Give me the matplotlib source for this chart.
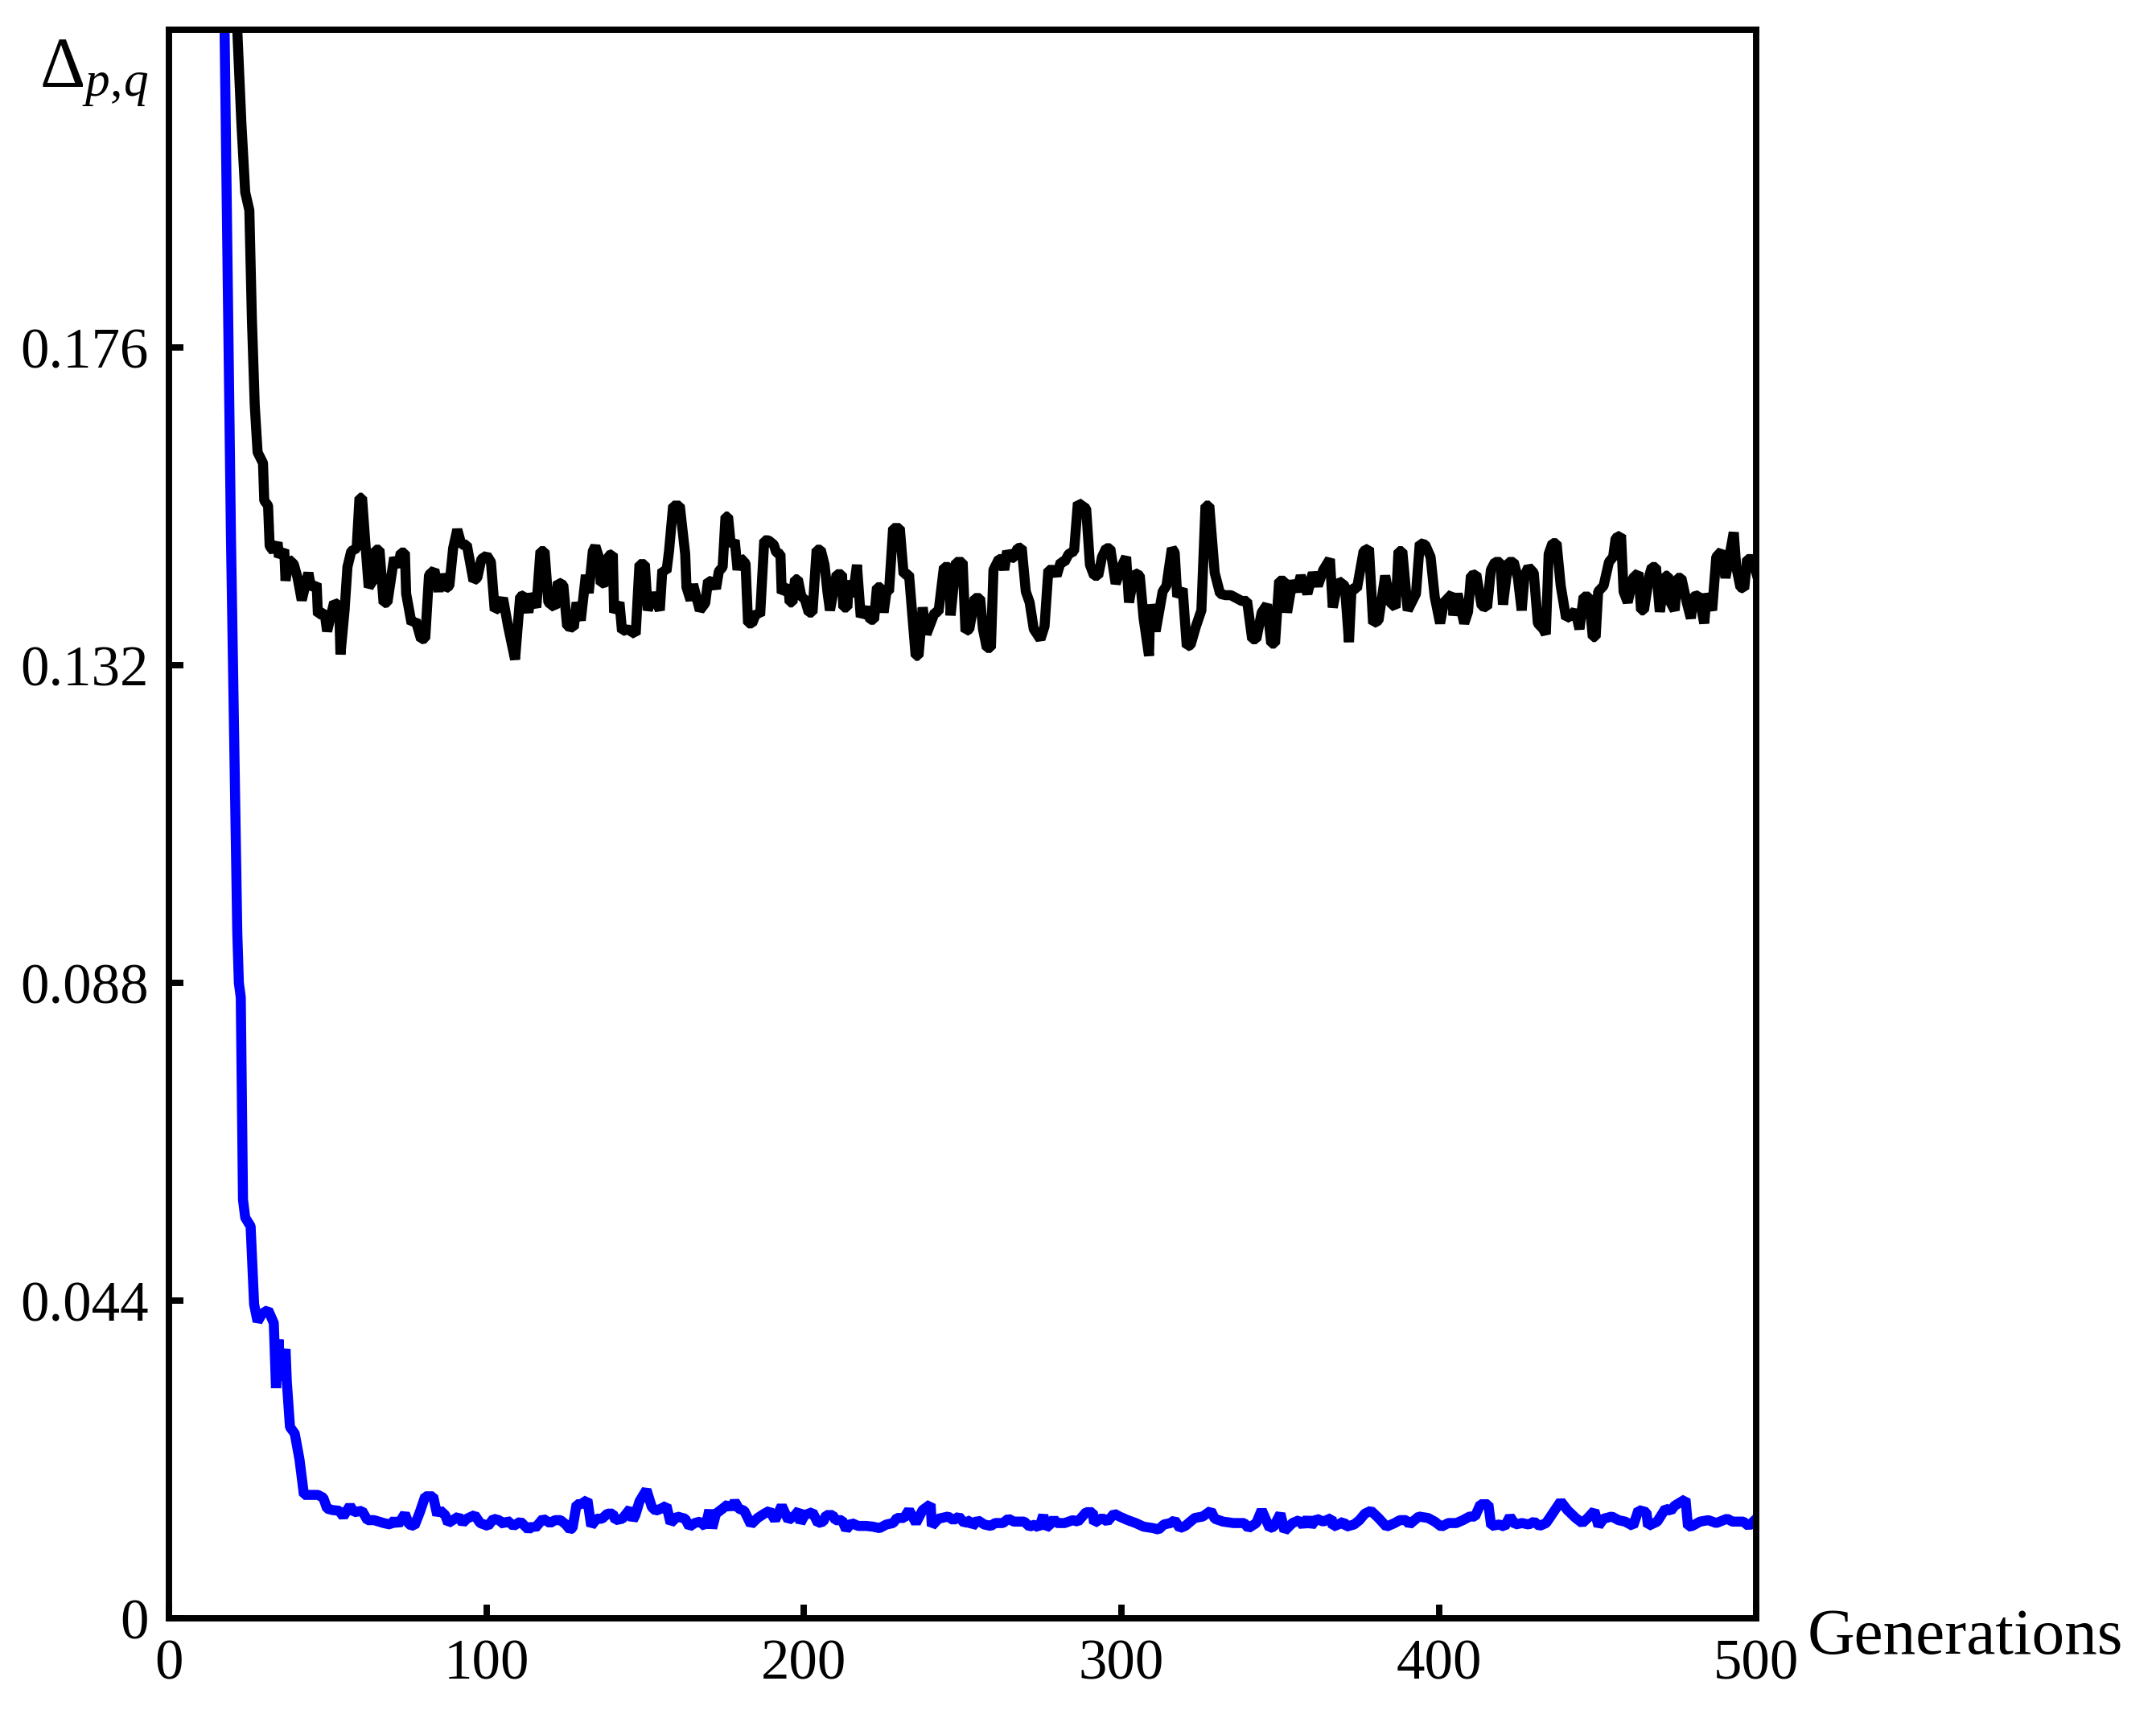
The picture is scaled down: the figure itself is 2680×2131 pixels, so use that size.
import matplotlib
matplotlib.use('Agg')
import matplotlib.pyplot as plt

# punkte odcitani s slike (generacija, vrednost)
black_gen = [19.0, 21.5, 22.8, 24.0, 25.3, 26.1, 27.0, 27.9, 29.6, 30.0, 31.2, 31.7, 32.9, 34.2, 34.6,
             36.3, 36.7, 37.6, 39.3, 40.5, 41.8, 43.9, 44.8, 46.5, 46.9, 49.0, 49.8, 52.0, 53.6, 54.0,
             55.3, 56.2, 57.4, 59.1, 60.0, 60.8, 62.1, 62.9, 64.2, 65.0, 66.3, 67.6, 68.8, 70.1, 70.9,
             72.2, 73.0, 74.3, 74.7, 76.4, 77.7, 79.4, 80.7, 81.9, 83.6, 84.9, 85.7, 87.0, 88.3, 89.5,
             90.8, 92.1, 93.8, 95.9, 97.1, 98.4, 100.1, 101.4, 102.6, 103.9, 105.2, 106.8, 109.0, 110.6,
             111.9, 113.2, 114.0, 115.7, 117.0, 118.3, 119.5, 121.6, 122.5, 124.2, 125.4, 127.5, 128.4,
             129.7, 131.3, 132.2, 133.5, 134.3, 135.6, 136.0, 137.7, 138.5, 139.8, 140.2, 141.9, 142.7,
             144.4, 147.0, 148.2, 149.9, 150.8, 152.5, 154.6, 155.4, 156.7, 157.5, 158.8, 160.9, 162.6,
             163.0, 164.3, 165.1, 167.2, 168.9, 169.8, 171.5, 172.3, 173.2, 174.4, 175.3, 176.1, 177.0,
             178.2, 179.1, 179.9, 181.6, 182.4, 183.7, 185.0, 186.2, 187.5, 188.8, 190.5, 191.3, 192.6,
             193.0, 195.1, 195.5, 196.4, 197.2, 198.1, 199.3, 200.2, 201.5, 202.7, 204.0, 205.3, 206.5,
             207.4, 208.2, 210.3, 212.0, 212.4, 213.7, 214.1, 215.4, 216.7, 217.9, 219.6, 220.9, 222.1,
             223.0, 224.3, 225.1, 226.0, 226.8, 228.1, 230.2, 231.4, 233.1, 235.2, 236.1, 237.4, 238.6,
             241.2, 242.4, 244.1, 245.8, 246.2, 247.9, 250.0, 250.9, 252.1, 253.8, 255.5, 256.4, 257.6,
             258.9, 259.7, 261.4, 262.3, 263.1, 264.0, 265.2, 266.1, 267.3, 268.6, 269.9, 271.1, 272.4,
             274.5, 275.8, 277.0, 278.7, 279.6, 280.9, 282.1, 283.4, 285.1, 286.3, 288.9, 290.1, 291.4,
             292.7, 293.9, 295.2, 296.5, 298.2, 300.3, 301.5, 302.4, 304.1, 305.8, 307.0, 308.7, 309.1,
             310.8, 313.0, 314.2, 315.9, 316.8, 317.6, 319.3, 320.6, 321.8, 323.5, 325.2, 326.5, 327.7,
             329.4, 331.1, 332.8, 334.5, 336.2, 337.9, 339.6, 341.2, 342.5, 344.2, 345.9, 347.2, 348.4,
             349.7, 351.4, 352.2, 353.9, 355.2, 356.5, 358.6, 360.3, 361.9, 363.6, 365.7, 366.6, 368.3,
             370.4, 371.7, 372.5, 374.2, 376.3, 378.0, 379.3, 381.0, 383.1, 384.7, 386.4, 387.3, 388.5,
             390.2, 392.8, 394.0, 395.7, 397.4, 398.7, 400.4, 401.6, 404.2, 404.6, 405.9, 408.0, 409.2,
             410.1, 411.8, 413.5, 415.2, 416.4, 417.7, 419.4, 420.2, 421.9, 423.6, 424.9, 426.1, 427.0,
             428.2, 429.9, 431.2, 432.9, 433.7, 434.6, 435.8, 437.1, 438.4, 440.1, 441.8, 443.0, 444.3,
             445.6, 447.3, 448.5, 449.4, 450.2, 451.9, 453.6, 454.9, 455.7, 457.4, 458.2, 459.5, 461.2,
             462.9, 463.7, 464.6, 466.3, 467.1, 468.4, 469.6, 471.3, 472.2, 473.0, 474.3, 475.1, 476.4,
             478.1, 479.4, 480.2, 481.9, 483.6, 484.4, 486.1, 487.4, 489.1, 490.3, 492.9, 493.7, 495.0,
             496.2, 497.1, 498.8, 500.0]
black_val = [0.245, 0.22, 0.207, 0.1975, 0.195, 0.18, 0.168, 0.1615, 0.160, 0.1548, 0.1541, 0.1485, 0.1478,
             0.149, 0.147, 0.148, 0.1437, 0.1467, 0.146, 0.1441, 0.141, 0.1448, 0.1426, 0.1433, 0.139,
             0.1393, 0.1367, 0.1407, 0.1402, 0.1335, 0.1396, 0.1456, 0.1478, 0.1482, 0.1552, 0.1552,
             0.1474, 0.1428, 0.1437, 0.148, 0.148, 0.1406, 0.1407, 0.1445, 0.1469, 0.1456, 0.1476, 0.1476,
             0.1419, 0.1378, 0.1382, 0.1356, 0.1357, 0.1445, 0.1452, 0.1422, 0.1446, 0.1426, 0.143,
             0.1482, 0.1508, 0.1487, 0.1487, 0.1437, 0.1441, 0.1467, 0.1472, 0.1463, 0.1396, 0.14,
             0.1413, 0.1374, 0.1328, 0.1415, 0.1417, 0.1393, 0.1419, 0.14, 0.1478, 0.1478, 0.1407, 0.14,
             0.1435, 0.1431, 0.1374, 0.1372, 0.1407, 0.1382, 0.1445, 0.142, 0.1478, 0.1485, 0.1467,
             0.1433, 0.1435, 0.1472, 0.1474, 0.1393, 0.1407, 0.1367, 0.137, 0.1363, 0.146, 0.146, 0.1396,
             0.142, 0.1396, 0.1452, 0.145, 0.1478, 0.1541, 0.1541, 0.1474, 0.1428, 0.141, 0.1432, 0.1396,
             0.1406, 0.1437, 0.1435, 0.1426, 0.145, 0.1456, 0.1526, 0.1526, 0.1485, 0.1493, 0.1452,
             0.1469, 0.1461, 0.1378, 0.1378, 0.1393, 0.1389, 0.1493, 0.1493, 0.1487, 0.1476, 0.1474,
             0.142, 0.143, 0.1407, 0.1407, 0.1439, 0.1439, 0.1413, 0.1413, 0.1393, 0.1393, 0.148, 0.148,
             0.1459, 0.1422, 0.1396, 0.1446, 0.1446, 0.14, 0.14, 0.1437, 0.1415, 0.1459, 0.1387, 0.14,
             0.1383, 0.1383, 0.1428, 0.1428, 0.1393, 0.1422, 0.1422, 0.151, 0.151, 0.1446, 0.1446,
             0.1333, 0.1333, 0.14, 0.1363, 0.1393, 0.1394, 0.1456, 0.1456, 0.1389, 0.1463, 0.1463,
             0.1367, 0.137, 0.1413, 0.1413, 0.137, 0.1344, 0.1344, 0.1452, 0.1467, 0.1467, 0.1452,
             0.1478, 0.1467, 0.147, 0.1482, 0.1483, 0.1422, 0.1407, 0.137, 0.1356, 0.1374, 0.1452,
             0.1452, 0.1444, 0.1463, 0.1463, 0.1474, 0.1478, 0.1545, 0.1537, 0.1459, 0.1444, 0.1444,
             0.147, 0.1482, 0.1482, 0.1433, 0.1459, 0.147, 0.1407, 0.1448, 0.1444, 0.1385, 0.1333,
             0.1404, 0.1367, 0.1422, 0.143, 0.1482, 0.1476, 0.1415, 0.1426, 0.1346, 0.1348, 0.1374,
             0.1396, 0.1541, 0.1541, 0.1448, 0.1419, 0.1417, 0.1417, 0.1413, 0.1409, 0.1409, 0.1356,
             0.1356, 0.1393, 0.1404, 0.135, 0.135, 0.1437, 0.1437, 0.1393, 0.1437, 0.1422, 0.1444,
             0.1419, 0.1448, 0.143, 0.1452, 0.1467, 0.14, 0.1437, 0.143, 0.1352, 0.1426, 0.1426, 0.1478,
             0.1482, 0.1378, 0.1382, 0.1444, 0.1407, 0.14, 0.1478, 0.1478, 0.1396, 0.1419, 0.1489,
             0.1487, 0.147, 0.1415, 0.1378, 0.1407, 0.1419, 0.1389, 0.1419, 0.1378, 0.1394, 0.1444,
             0.1446, 0.1402, 0.14, 0.1452, 0.1463, 0.1463, 0.1404, 0.1463, 0.1463, 0.1441, 0.1396,
             0.1444, 0.1456, 0.1448, 0.1378, 0.137, 0.1363, 0.1474, 0.1489, 0.1489, 0.143, 0.1385,
             0.1389, 0.1396, 0.137, 0.1415, 0.1415, 0.1359, 0.1359, 0.1422, 0.143, 0.1463, 0.147, 0.1496,
             0.15, 0.1422, 0.1407, 0.1441, 0.1448, 0.1396, 0.1396, 0.1444, 0.1456, 0.1456, 0.1394,
             0.1444, 0.1444, 0.1407, 0.1396, 0.1441, 0.1441, 0.1407, 0.1385, 0.1415, 0.1417, 0.1378,
             0.1419, 0.1396, 0.147, 0.1478, 0.1441, 0.1504, 0.1456, 0.1428, 0.1426, 0.1467, 0.1467,
             0.1448]

blue_gen = [15.0, 17.5, 19.5, 21.5, 22.0, 22.6, 23.3, 24.0, 25.7, 26.8, 27.9, 29.3, 31.2, 33.0, 33.7, 34.5,
            35.2, 36.7, 37.1, 38.1, 39.6, 41.1, 42.5, 46.9, 48.6, 49.8, 51.5, 53.6, 54.9, 57.0, 58.3,
            60.8, 62.5, 64.6, 67.6, 69.7, 71.0, 72.2, 74.3, 75.6, 77.3, 79.0, 80.7, 83.2, 84.5, 85.3,
            87.0, 87.9, 91.2, 92.5, 93.8, 96.3, 98.0, 100.5, 102.2, 103.9, 105.6, 106.4, 108.5, 110.7,
            113.2, 114.5, 115.3, 117.8, 120.0, 121.6, 123.3, 125.0, 126.3, 127.1, 128.4, 129.7, 131.8,
            133.0, 134.7, 136.4, 138.1, 139.8, 140.6, 142.8, 145.3, 146.1, 146.9, 148.2, 150.4, 152.1,
            153.3, 155.0, 156.7, 158.0, 160.1, 162.6, 163.9, 165.6, 167.3, 169.0, 170.2, 171.1, 172.3,
            174.4, 176.1, 177.0, 178.2, 179.5, 181.2, 183.3, 185.4, 187.5, 189.2, 190.9, 193.0, 195.1,
            197.2, 198.5, 198.9, 200.2, 202.7, 204.4, 206.1, 207.0, 209.1, 209.9, 212.0, 213.3, 215.0,
            217.1, 219.6, 221.7, 223.8, 226.0, 228.1, 229.3, 231.5, 233.1, 235.3, 237.4, 239.9, 240.3,
            242.4, 245.4, 247.1, 248.8, 250.5, 252.6, 253.0, 254.7, 256.8, 258.9, 260.2, 262.7, 264.4,
            266.1, 269.4, 271.1, 272.8, 274.1, 275.4, 276.2, 277.5, 278.7, 279.6, 282.1, 284.7, 286.3,
            288.9, 291.0, 291.4, 293.9, 295.6, 297.7, 299.4, 302.0, 304.5, 307.0, 310.0, 311.7, 313.4,
            315.5, 316.8, 318.4, 320.1, 323.1, 325.6, 328.2, 329.4, 332.0, 335.3, 338.7, 340.0, 342.5,
            344.2, 346.7, 348.0, 350.1, 351.4, 353.9, 356.0, 357.3, 358.6, 359.8, 361.5, 363.6, 366.2,
            366.6, 368.3, 370.0, 370.8, 373.3, 375.0, 376.7, 378.6, 381.0, 383.5, 386.1, 387.7, 389.8,
            390.7, 393.7, 396.6, 398.7, 400.8, 403.0, 405.5, 407.6, 409.7, 411.4, 413.1, 415.6, 416.5,
            419.0, 420.7, 422.4, 424.1, 426.2, 428.3, 430.0, 431.7, 433.8, 435.5, 438.4, 440.5, 443.1,
            445.2, 446.9, 449.0, 450.3, 451.9, 454.5, 456.6, 458.7, 461.2, 462.9, 465.4, 465.9, 468.8,
            471.4, 473.1, 474.3, 477.7, 478.5, 479.8, 482.3, 484.9, 487.4, 490.8, 492.5, 495.9, 497.6,
            500.0]
blue_val = [0.26, 0.22, 0.15, 0.095, 0.088, 0.086, 0.058, 0.0555, 0.0543, 0.0435, 0.0411, 0.0422, 0.0427,
            0.0409, 0.0319, 0.0386, 0.033, 0.0373, 0.0328, 0.0265, 0.0256, 0.022, 0.0171, 0.0171,
            0.0167, 0.0152, 0.015, 0.0149, 0.0141, 0.0156, 0.0147, 0.0149, 0.0136, 0.0136, 0.0132, 0.013,
            0.0136, 0.013, 0.0145, 0.013, 0.0128, 0.0147, 0.0169, 0.0169, 0.0143, 0.015, 0.0143, 0.0132,
            0.0141, 0.0132, 0.0138, 0.0143, 0.0132, 0.0128, 0.0138, 0.0136, 0.013, 0.0136, 0.0128,
            0.0134, 0.0123, 0.0128, 0.0125, 0.0138, 0.0132, 0.0136, 0.0136, 0.013, 0.0123, 0.0125,
            0.0158, 0.0158, 0.0164, 0.0128, 0.0138, 0.0138, 0.0145, 0.0145, 0.0136, 0.0138, 0.0152,
            0.0136, 0.0143, 0.0162, 0.0178, 0.0154, 0.0149, 0.0152, 0.0156, 0.0132, 0.0141, 0.0138,
            0.0127, 0.0132, 0.0134, 0.0127, 0.015, 0.0125, 0.0145, 0.0152, 0.0158, 0.0152, 0.0162,
            0.0152, 0.0149, 0.013, 0.0139, 0.0145, 0.0149, 0.0136, 0.0156, 0.0136, 0.0143, 0.015, 0.0132,
            0.0143, 0.0147, 0.0132, 0.0134, 0.0143, 0.0143, 0.0136, 0.0136, 0.0123, 0.0132, 0.0128,
            0.0128, 0.0127, 0.0125, 0.013, 0.0132, 0.0139, 0.0139, 0.015, 0.0132, 0.015, 0.0158, 0.0128,
            0.0138, 0.0141, 0.0136, 0.0141, 0.0132, 0.0136, 0.0127, 0.0136, 0.013, 0.0128, 0.0132,
            0.0132, 0.0138, 0.0134, 0.0134, 0.0127, 0.013, 0.0125, 0.0143, 0.0125, 0.013, 0.0138,
            0.0132, 0.0132, 0.0136, 0.0134, 0.0147, 0.0147, 0.0132, 0.0139, 0.0134, 0.0145, 0.0141,
            0.0136, 0.0132, 0.0127, 0.0125, 0.0123, 0.013, 0.0132, 0.0136, 0.0125, 0.0128, 0.0139,
            0.0141, 0.0149, 0.0138, 0.0134, 0.0132, 0.0132, 0.0125, 0.0132, 0.015, 0.0125, 0.0127,
            0.0145, 0.0121, 0.0132, 0.0136, 0.0128, 0.0139, 0.0128, 0.0138, 0.0134, 0.0139, 0.0127,
            0.013, 0.0134, 0.0127, 0.013, 0.0136, 0.0145, 0.0149, 0.0139, 0.0127, 0.0132, 0.0136,
            0.0136, 0.013, 0.0141, 0.0139, 0.0134, 0.0127, 0.0132, 0.0132, 0.0136, 0.0141, 0.0141,
            0.0158, 0.0158, 0.0128, 0.013, 0.0127, 0.0141, 0.013, 0.0132, 0.013, 0.0134, 0.0128, 0.0132,
            0.0143, 0.0162, 0.015, 0.0139, 0.0132, 0.0139, 0.0149, 0.0128, 0.0138, 0.0141, 0.0136,
            0.0134, 0.0128, 0.015, 0.0147, 0.0128, 0.0134, 0.0152, 0.0149, 0.0156, 0.0165, 0.0127,
            0.0128, 0.0134, 0.0136, 0.0132, 0.0138, 0.0134, 0.0134, 0.0128, 0.0138]

x_ticks = [0, 100, 200, 300, 400, 500]
y_ticks = [0, 0.044, 0.088, 0.132, 0.176]
y_tick_labels = ['0', '0.044', '0.088', '0.132', '0.176']

plt.rcParams['font.family'] = ['Liberation Serif', 'DejaVu Serif']
plt.rcParams['mathtext.fontset'] = 'custom'
plt.rcParams['mathtext.rm'] = 'Liberation Serif'
plt.rcParams['mathtext.it'] = 'Liberation Serif:italic'

fig = plt.figure(figsize=(2680 / 300, 2131 / 300), dpi=300)
ax = fig.add_axes([0.0784, 0.0558, 0.7362, 0.9268])

ax.plot(blue_gen, blue_val, color=(0, 0, 1), lw=3.0, solid_joinstyle='bevel')
ax.plot(black_gen, black_val, color='black', lw=3.0, solid_joinstyle='bevel')

ax.set_xlim(0, 500)
ax.set_ylim(0, 0.22)
ax.set_xticks(x_ticks)
ax.set_yticks(y_ticks)
ax.set_yticklabels(y_tick_labels)
ax.tick_params(direction='in', length=4.2, width=1.9, labelsize=17, pad=6,
               top=False, right=False)
for s in ax.spines.values():
    s.set_linewidth(1.9)

# oznake osi
ax.text(-0.013, 0.965, r'$\Delta_{p,\!q}$', transform=ax.transAxes, ha='right', va='baseline',
        fontsize=21)
ax.text(1.032, -0.022, 'Generations', transform=ax.transAxes, ha='left', va='baseline',
        fontsize=19.5)

fig.savefig('out.png', dpi=300)
